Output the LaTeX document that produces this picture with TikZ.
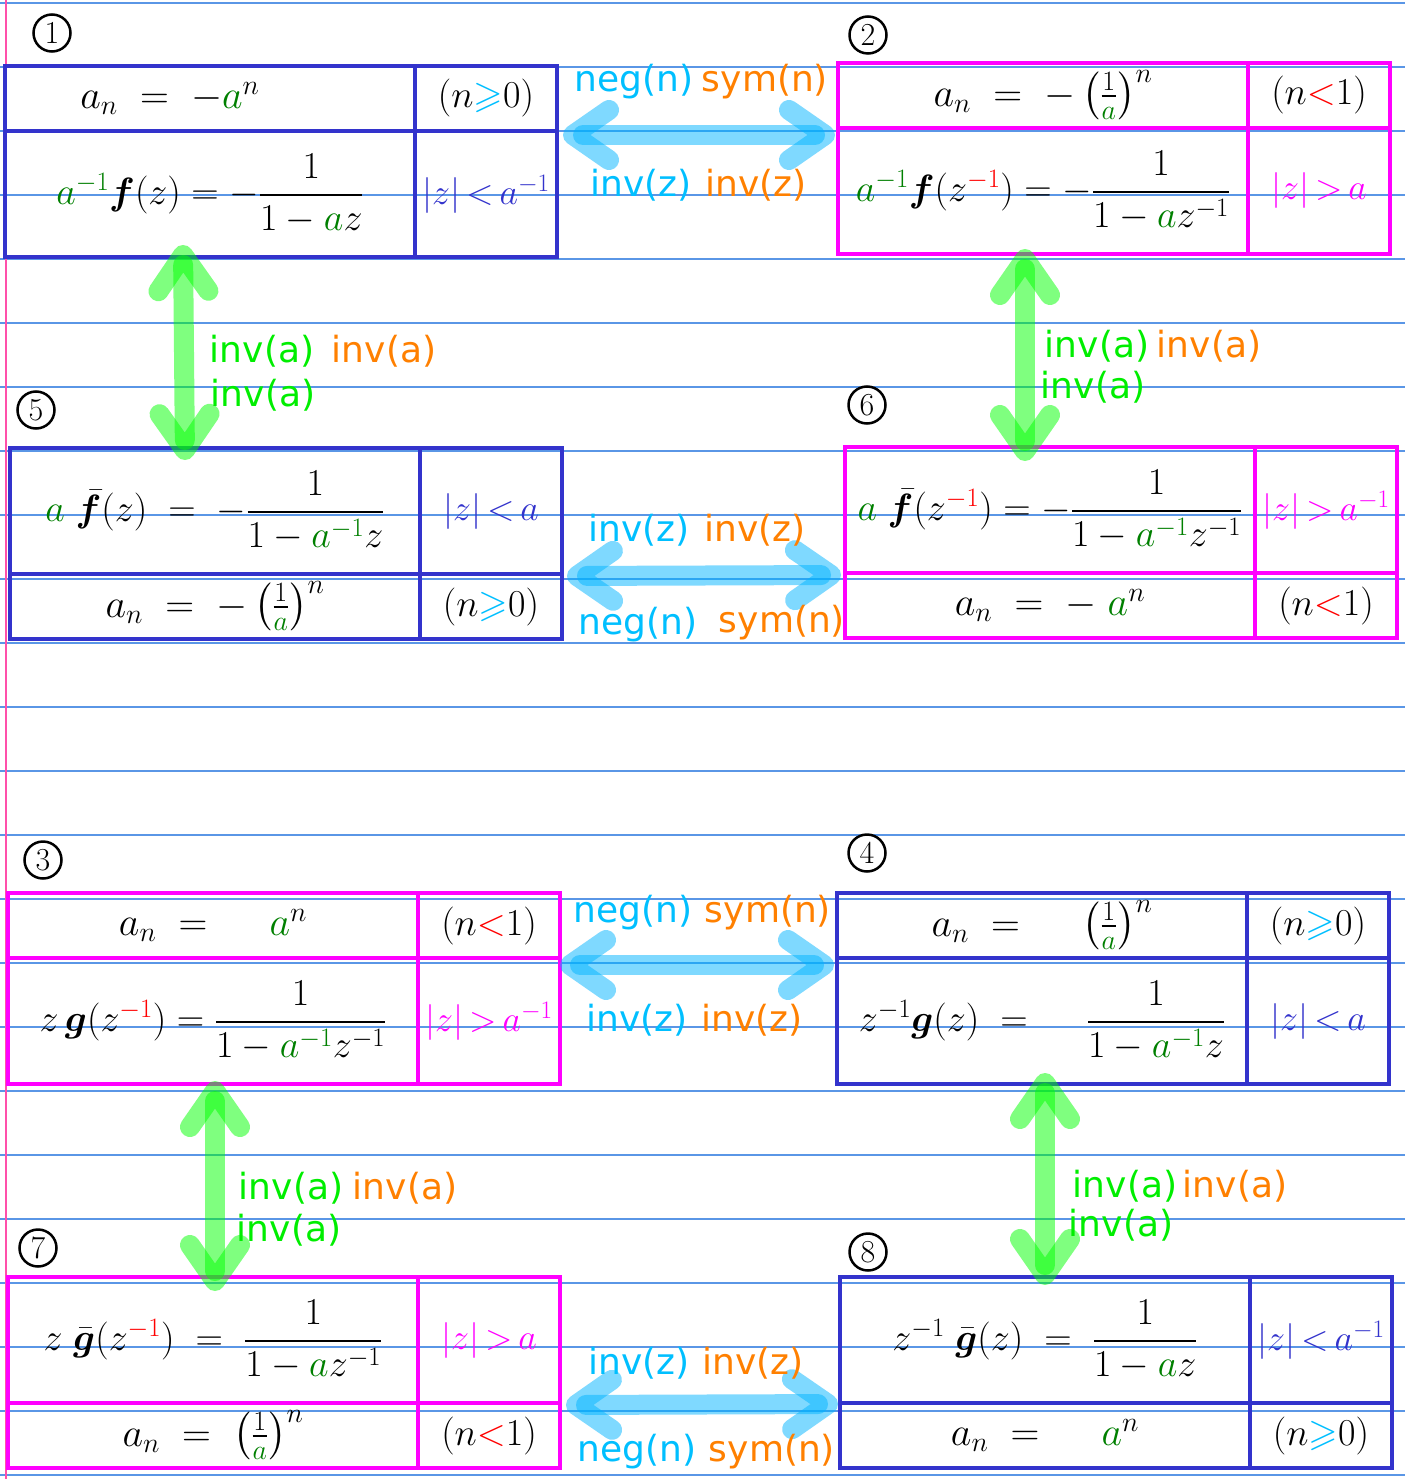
\RequirePackage{fix-cm}
\documentclass[tikz,border=0pt]{standalone}
\usepackage{amsmath,amssymb,bm}
\DeclareFontFamily{U}{msa}{}
\DeclareFontShape{U}{msa}{m}{n}{<->msam10}{}
\usepackage{fontspec}
\newfontfamily\labfont{DejaVu Sans}
\usetikzlibrary{arrows.meta}
\definecolor{boxblue}{RGB}{51,51,204}
\definecolor{boxmag}{RGB}{255,0,255}
\definecolor{labblue}{RGB}{0,191,255}
\definecolor{laborange}{RGB}{255,128,0}
\definecolor{labgreen}{RGB}{0,238,0}
\definecolor{mgreen}{RGB}{0,128,0}
\definecolor{mred}{RGB}{255,0,0}
\definecolor{rulec}{RGB}{90,150,230}
\definecolor{marginc}{RGB}{255,80,170}
\definecolor{harrowc}{RGB}{0,180,255}
\definecolor{varrowc}{RGB}{0,255,0}
\newcommand\ga{{\color{mgreen}a}}
\newcommand\gai{{\color{mgreen}a^{-1}}}
\newcommand\zr{z^{{\color{mred}-1}}}
\newcommand\geb{{\color{labblue}\geqslant}}
\newcommand\ltr{{\color{mred}<}}
\newcommand\rlt{\,{<}\,}
\newcommand\rgt{\,{>}\,}
\begin{document}
\begin{tikzpicture}[x=1pt,y=-1pt,
  cell/.style={line width=3.5pt, inner sep=0pt, outer sep=0pt, anchor=north west, font=\fontsize{40}{46}\selectfont},
  cellb/.style={cell, draw=boxblue},
  cellm/.style={cell, draw=boxmag},
  wl/.style={minimum width=410pt},
  wr/.style={minimum width=142pt},
  ha/.style={minimum height=65pt},
  hc/.style={font=\fontsize{38}{44}\selectfont},
  hf/.style={minimum height=126pt, font=\fontsize{38}{46}\selectfont},
  rg/.style={font=\fontsize{36}{42}\selectfont},
  lab/.style={font=\labfont\fontsize{36}{40}\selectfont, inner sep=0pt},
  num/.style={circle, draw=black, line width=2.5pt, minimum size=37pt, inner sep=0pt, font=\fontsize{32}{34}\selectfont},
  ruleline/.style={draw=rulec, line width=1.3pt},
  marginline/.style={draw=marginc, line width=1.3pt},
  harrow/.style={draw=harrowc, draw opacity=0.5, line width=20pt, line cap=round, <->, >={Straight Barb[length=36pt,width=50pt,round]}},
  varrow/.style={draw=varrowc, draw opacity=0.5, line width=20pt, line cap=round, <->, >={Straight Barb[length=36pt,width=50pt,round]}}
]
\useasboundingbox (0,0) rectangle (1405,1479);
\fill[white] (0,0) rectangle (1405,1479);
% ruled paper
\foreach \k in {0,...,23} \draw[ruleline] (0,{3+64*\k}) -- (1405,{3+64*\k});
\draw[marginline] (6,0) -- (6,1479);

% ---- Box 1 (blue)
\node[cellb,wl,ha] (b1a) at (5,66) {$a_n \;=\; -\ga^{n}\qquad$};
\node[cellb,wr,ha,hc] (b1an) at (b1a.north east) {$(n \geb 0)$};
\node[cellb,wl,hf] (b1f) at (b1a.south west) {$\gai\bm{f}(z) = -\dfrac{1}{1-\ga z}$};
\node[cellb,wr,hf,rg] (b1fr) at (b1f.north east) {\color{boxblue}$|z|\rlt a^{-1}$};

% ---- Box 2 (magenta)
\node[cellm,wl,ha] (b2a) at (838,63) {$a_n \;=\; -\left(\frac{1}{\ga}\right)^{n}$};
\node[cellm,wr,ha,hc] (b2an) at (b2a.north east) {$(n \ltr 1)$};
\node[cellm,wl,hf] (b2f) at (b2a.south west) {$\gai\bm{f}(\zr) = -\dfrac{1}{1-\ga z^{-1}}$};
\node[cellm,wr,hf,rg] (b2fr) at (b2f.north east) {\color{boxmag}$|z|\rgt a$};

% ---- Box 5 (blue)
\node[cellb,wl,hf] (b5f) at (10,448) {$\ga\;\bar{\bm{f}}(z) \;=\; -\dfrac{1}{1-\gai z}$};
\node[cellb,wr,hf,rg] (b5fr) at (b5f.north east) {\color{boxblue}$|z|\rlt a$};
\node[cellb,wl,ha] (b5a) at (b5f.south west) {$a_n \;=\; -\left(\frac{1}{\ga}\right)^{n}$};
\node[cellb,wr,ha,hc] (b5an) at (b5a.north east) {$(n \geb 0)$};

% ---- Box 6 (magenta)
\node[cellm,wl,hf] (b6f) at (845,447) {$\ga\;\bar{\bm{f}}(\zr) = -\dfrac{1}{1-\gai z^{-1}}$};
\node[cellm,wr,hf,rg] (b6fr) at (b6f.north east) {\color{boxmag}$|z|\rgt a^{-1}$};
\node[cellm,wl,ha] (b6a) at (b6f.south west) {$a_n \;=\; -\;\ga^{n}$};
\node[cellm,wr,ha,hc] (b6an) at (b6a.north east) {$(n \ltr 1)$};

% ---- Box 3 (magenta)
\node[cellm,wl,ha] (b3a) at (8,893) {$a_n \;=\;\quad \ga^{n}$};
\node[cellm,wr,ha,hc] (b3an) at (b3a.north east) {$(n \ltr 1)$};
\node[cellm,wl,hf] (b3f) at (b3a.south west) {$z\,\bm{g}(\zr) = \dfrac{1}{1-\gai z^{-1}}$};
\node[cellm,wr,hf,rg] (b3fr) at (b3f.north east) {\color{boxmag}$|z|\rgt a^{-1}$};

% ---- Box 4 (blue)
\node[cellb,wl,ha] (b4a) at (837,893) {$a_n \;=\;\quad \left(\frac{1}{\ga}\right)^{n}$};
\node[cellb,wr,ha,hc] (b4an) at (b4a.north east) {$(n \geb 0)$};
\node[cellb,wl,hf] (b4f) at (b4a.south west) {$z^{-1}\bm{g}(z) \;=\;\quad \dfrac{1}{1-\gai z}$};
\node[cellb,wr,hf,rg] (b4fr) at (b4f.north east) {\color{boxblue}$|z|\rlt a$};

% ---- Box 7 (magenta)
\node[cellm,wl,hf] (b7f) at (8,1277) {$z\;\bar{\bm{g}}(\zr) \;=\; \dfrac{1}{1-\ga z^{-1}}$};
\node[cellm,wr,hf,rg] (b7fr) at (b7f.north east) {\color{boxmag}$|z|\rgt a$};
\node[cellm,wl,ha] (b7a) at (b7f.south west) {$a_n \;=\; \left(\frac{1}{\ga}\right)^{n}$};
\node[cellm,wr,ha,hc] (b7an) at (b7a.north east) {$(n \ltr 1)$};

% ---- Box 8 (blue)
\node[cellb,wl,hf] (b8f) at (840,1277) {$z^{-1}\;\bar{\bm{g}}(z) \;=\; \dfrac{1}{1-\ga z}$};
\node[cellb,wr,hf,rg] (b8fr) at (b8f.north east) {\color{boxblue}$|z|\rlt a^{-1}$};
\node[cellb,wl,ha] (b8a) at (b8f.south west) {$a_n \;=\;\quad \ga^{n}$};
\node[cellb,wr,ha,hc] (b8an) at (b8a.north east) {$(n \geb 0)$};

% ---- circled numbers
\node[num] (c1) at (52,33) {1};
\node[num] (c2) at (868,35) {2};
\node[num] (c5) at (36,410) {5};
\node[num] (c6) at (867,405) {6};
\node[num] (c3) at (43,860) {3};
\node[num] (c4) at (867,853) {4};
\node[num] (c7) at (38,1248) {7};
\node[num] (c8) at (868,1252) {8};

% ---- horizontal arrows
\draw[harrow] ([xshift=6pt,yshift=-4pt]b1an.south east) -- ([xshift=-3pt,yshift=-7pt]b2a.south west);
\draw[harrow] ([xshift=5pt,yshift=-2pt]b5an.north east) -- ([xshift=-4pt,yshift=-2pt]b6a.north west);
\draw[harrow] ([xshift=0pt,yshift=-7pt]b3an.south east) -- ([xshift=-3pt,yshift=-7pt]b4a.south west);
\draw[harrow] ([xshift=6pt,yshift=-2pt]b7an.north east) -- ([xshift=-2pt,yshift=-1pt]b8a.north west);

% ---- vertical arrows
\draw[varrow] ([xshift=-27pt,yshift=12pt]b1f.south) -- ([xshift=-30pt,yshift=-12pt]b5f.north);
\draw[varrow] ([xshift=-18pt,yshift=5pt]b2f.south) -- ([xshift=-25pt,yshift=-14pt]b6f.north);
\draw[varrow] ([xshift=2pt,yshift=3pt]b3f.south) -- ([xshift=2pt,yshift=-14pt]b7f.north);
\draw[varrow] ([xshift=3pt,yshift=11pt]b4f.south) -- ([xshift=0pt,yshift=-8pt]b8f.north);

% ---- labels row 1
\node[lab,text=labblue] (l1a) at (634,82) {neg(n)};
\node[lab,text=laborange] (l1b) at (765,82) {sym(n)};
\node[lab,text=labblue] (l1c) at (641,185) {inv(z)};
\node[lab,text=laborange] (l1d) at (756,185) {inv(z)};
% row 2
\node[lab,text=labblue] (l2a) at (639,530) {inv(z)};
\node[lab,text=laborange] (l2b) at (755,530) {inv(z)};
\node[lab,text=labblue] (l2c) at (638,625) {neg(n)};
\node[lab,text=laborange] (l2d) at (782,623) {sym(n)};
% row 3
\node[lab,text=labblue] (l3a) at (633,913) {neg(n)};
\node[lab,text=laborange] (l3b) at (768,913) {sym(n)};
\node[lab,text=labblue] (l3c) at (637,1020) {inv(z)};
\node[lab,text=laborange] (l3d) at (752,1020) {inv(z)};
% row 4
\node[lab,text=labblue] (l4a) at (639,1363) {inv(z)};
\node[lab,text=laborange] (l4b) at (753,1363) {inv(z)};
\node[lab,text=labblue] (l4c) at (637,1452) {neg(n)};
\node[lab,text=laborange] (l4d) at (772,1452) {sym(n)};
% vertical labels
\node[lab,text=labgreen] (v1a) at (262,351) {inv(a)};
\node[lab,text=laborange] (v1b) at (384,351) {inv(a)};
\node[lab,text=labgreen] (v1c) at (263,395) {inv(a)};
\node[lab,text=labgreen] (v2a) at (1097,346) {inv(a)};
\node[lab,text=laborange] (v2b) at (1209,346) {inv(a)};
\node[lab,text=labgreen] (v2c) at (1093,387) {inv(a)};
\node[lab,text=labgreen] (v3a) at (291,1188) {inv(a)};
\node[lab,text=laborange] (v3b) at (405,1188) {inv(a)};
\node[lab,text=labgreen] (v3c) at (289,1230) {inv(a)};
\node[lab,text=labgreen] (v4a) at (1125,1186) {inv(a)};
\node[lab,text=laborange] (v4b) at (1235,1186) {inv(a)};
\node[lab,text=labgreen] (v4c) at (1121,1225) {inv(a)};
\end{tikzpicture}
\end{document}
